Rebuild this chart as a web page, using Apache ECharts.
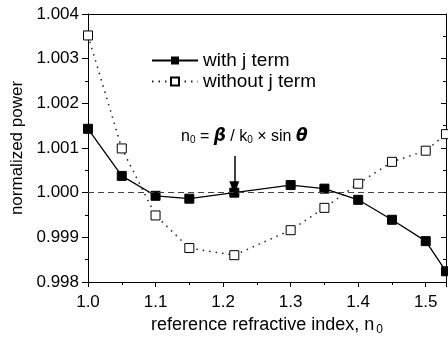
<!DOCTYPE html>
<html>
<head>
<meta charset="utf-8">
<script src="https://cdn.jsdelivr.net/npm/echarts@6/dist/echarts.min.js"></script>
<style>
html,body{margin:0;padding:0;background:#fff;}
#c{width:448px;height:345px;}
</style>
</head>
<body>
<div id="c"></div>
<script>
// data
var nValues   = [1.0, 1.05, 1.1, 1.15, 1.2166, 1.3, 1.35, 1.4, 1.45, 1.5, 1.53];
var withJ     = [1.00143, 1.000375, 0.99993, 0.999865, 1.0000, 1.00017, 1.00009, 0.99984, 0.999393, 0.998915, 0.99824];
var withoutJ  = [1.00352, 1.00099, 0.99949, 0.99876, 0.9986, 0.99916, 0.99966, 1.0002, 1.00069, 1.00094, 1.00131];
var xTicks    = [1.0, 1.1, 1.2, 1.3, 1.4, 1.5];
var yTicks    = [0.998, 0.999, 1.000, 1.001, 1.002, 1.003, 1.004];
var refLevel  = 1.0;
var arrowX    = 1.2166;
var arrowFrom = 1.00082;
var arrowTo   = 1.00011;
var labelY    = 1.00126;

var FONT = 'Liberation Sans';
function pairs(xs, ys){ return xs.map(function(x,i){ return [x, ys[i]]; }); }

var chart = echarts.init(document.getElementById('c'));
chart.setOption({
  animation:false,
  backgroundColor:'#fff',
  textStyle:{fontFamily:FONT},
  grid:{left:88, top:14, right:2, bottom:63},
  legend:{
    orient:'vertical', left:146, top:46,
    itemWidth:46, itemHeight:10, itemGap:2,
    textStyle:{fontFamily:FONT, fontSize:19, color:'#000'},
    data:['with j term','without j term']
  },
  xAxis:[{
    type:'value', min:1.0, max:1.53, interval:0.1,
    axisLine:{lineStyle:{color:'#000', width:1}},
    axisTick:{show:true, length:5, lineStyle:{color:'#000'}},
    minorTick:{show:true, splitNumber:2, length:3, lineStyle:{color:'#000'}},
    splitLine:{show:false},
    axisLabel:{fontFamily:FONT, fontSize:17, color:'#000', margin:12, showMaxLabel:false,
      formatter:function(v){
        for (var i=0;i<xTicks.length;i++){ if (Math.abs(v-xTicks[i])<1e-6) return xTicks[i].toFixed(1); }
        return '';
      }},
    name:'{a|reference refractive index, n}{s|0}',
    nameLocation:'middle', nameGap:33,
    nameTextStyle:{rich:{
      a:{fontFamily:FONT, fontSize:18, color:'#000'},
      s:{fontFamily:FONT, fontSize:12, color:'#000', verticalAlign:'bottom', padding:[9,0,0,2]}
    }}
  },{
    type:'value', position:'top', min:1.0, max:1.53, interval:0.1,
    axisLine:{show:true, lineStyle:{color:'#000', width:1}},
    axisTick:{show:false}, axisLabel:{show:false}, splitLine:{show:false}
  }],
  yAxis:[{
    type:'value', min:0.998, max:1.004, interval:0.001,
    axisLine:{show:true, lineStyle:{color:'#000', width:1}},
    axisTick:{show:true, length:6, lineStyle:{color:'#000'}},
    minorTick:{show:true, splitNumber:2, length:3, lineStyle:{color:'#000'}},
    splitLine:{show:false},
    axisLabel:{fontFamily:FONT, fontSize:17, color:'#000', margin:9,
      formatter:function(v){ return v.toFixed(3); }},
    name:'normalized power', nameLocation:'middle', nameGap:60,
    nameTextStyle:{fontFamily:FONT, fontSize:17, color:'#000'}
  },{
    type:'value', position:'right', min:0.998, max:1.004, interval:0.001,
    axisLine:{show:true, lineStyle:{color:'#000', width:1}},
    axisTick:{show:true, inside:true, length:5, lineStyle:{color:'#000'}},
    minorTick:{show:true, splitNumber:2, length:3, lineStyle:{color:'#000'}},
    axisLabel:{show:false}, splitLine:{show:false}
  }],
  series:[{
    name:'with j term', type:'line', data:pairs(nValues, withJ),
    symbol:'rect', symbolSize:9, showAllSymbol:true,
    lineStyle:{color:'#000', width:1.3},
    itemStyle:{color:'#000', borderColor:'#000'},
    z:3,
    markLine:{
      silent:true, symbol:['none','none'], label:{show:false},
      lineStyle:{color:'#444', type:[6,4], width:1},
      data:[{yAxis:refLevel}]
    }
  },{
    name:'without j term', type:'line', data:pairs(nValues, withoutJ),
    symbol:'rect', symbolSize:9, showAllSymbol:true,
    lineStyle:{color:'#222', width:1.5, type:[1.5,5]},
    itemStyle:{color:'#fff', borderColor:'#000', borderWidth:1},
    z:2,
    markLine:{
      silent:true, symbol:['none','triangle'], symbolSize:[10,13], label:{show:false},
      lineStyle:{color:'#000', type:'solid', width:1.5},
      data:[[{coord:[arrowX, arrowFrom]},{coord:[arrowX, arrowTo]}]]
    },
    markPoint:{
      silent:true, symbolSize:0,
      data:[{coord:[arrowX, labelY]}],
      label:{show:true, position:'inside', offset:[10,0], color:'#000',
        formatter:'{n|n}{s|0}{n| = }{b|β}{n| / k}{s|0}{n| × sin }{b|θ}',
        rich:{
          n:{fontFamily:FONT, fontSize:16, color:'#000'},
          s:{fontFamily:FONT, fontSize:10, color:'#000', verticalAlign:'bottom', padding:[7,0,0,0]},
          b:{fontFamily:'DejaVu Sans', fontSize:17, fontWeight:'bold', fontStyle:'italic', color:'#000'}
        }}
    }
  }]
});
</script>
</body>
</html>
